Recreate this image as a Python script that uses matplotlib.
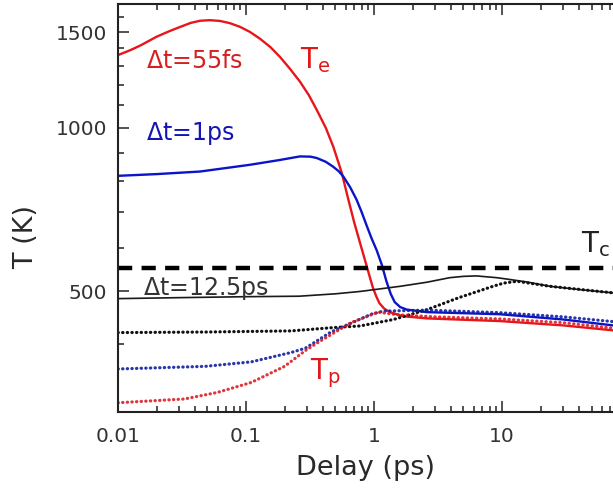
import matplotlib
matplotlib.use("Agg")
import matplotlib.pyplot as plt
from matplotlib.ticker import FixedLocator, NullFormatter, LogLocator

plt.rcParams['font.family'] = ['DejaVu Sans']
plt.rcParams['mathtext.default'] = 'regular'

# electron temperature, 55 fs pulse
red_te_t = [0.01, 0.0125, 0.015, 0.02, 0.025, 0.03, 0.037, 0.0437, 0.052, 0.0626,
            0.075, 0.0898, 0.107, 0.128, 0.155, 0.184, 0.22, 0.264, 0.31, 0.357,
            0.42, 0.48, 0.52, 0.56, 0.63, 0.7, 0.8, 0.87, 0.93, 0.98, 1.04, 1.1,
            1.2, 1.33, 1.7, 2.6, 9.6, 30, 73.6]
red_te_T = [1361, 1390, 1418, 1471, 1505, 1531, 1560, 1574, 1578, 1573,
            1558, 1534, 1502, 1460, 1408, 1351, 1285, 1216, 1148, 1079,
            1000, 924, 872, 826, 738, 670, 600, 560, 530, 508, 490, 476,
            465, 458, 450, 446, 441, 433, 424]

# electron temperature, 1 ps pulse
blue_te_t = [0.01, 0.02, 0.0437, 0.107, 0.18, 0.264, 0.32, 0.357, 0.42, 0.48,
             0.53, 0.575, 0.65, 0.73, 0.8, 0.88, 0.96, 1.05, 1.15, 1.25,
             1.35, 1.45, 1.6, 1.8, 2.6, 9.6, 30, 73.6]
blue_te_T = [816, 822, 831, 855, 872, 886, 885, 880, 866, 848,
             832, 814, 778, 738, 700, 659, 625, 595, 560, 522,
             495, 478, 468, 463, 458, 454, 444, 433]

# electron temperature, 12.5 ps pulse
black_te_t = [0.01, 0.03, 0.1, 0.26, 0.5, 0.78, 1.6, 2.6, 3.9, 5, 6.3, 9.1,
              11.5, 16, 23.7, 40, 73.6]
black_te_T = [485, 487, 489, 490, 495, 500, 511, 520, 530, 533, 534, 530,
              526, 520, 511, 504, 497]

# phonon temperatures
red_tp_t = [0.01, 0.033, 0.06, 0.11, 0.2, 0.29, 0.36, 0.66, 1.08, 1.5, 3, 9.6, 30, 73.6]
red_tp_T = [312, 317, 326, 340, 364, 389, 402, 438, 458, 453, 449, 445, 438, 428]

blue_tp_t = [0.01, 0.048, 0.11, 0.225, 0.29, 0.46, 0.66, 0.95, 1.18, 2.6, 9.6, 30, 73.6]
blue_tp_T = [360, 364, 371, 386, 393, 421, 437, 454, 460, 462, 457, 449, 440]

black_tp_t = [0.01, 0.048, 0.225, 0.48, 0.78, 1.42, 2.6, 4.6, 8.5, 10.3, 13.1, 23.7, 73.6]
black_tp_T = [420, 421, 423, 429, 432, 444, 463, 487, 511, 518, 522, 511, 497]

T_c = 553

fig = plt.figure(figsize=(6.13, 4.91), dpi=100)
ax = fig.add_axes([118 / 613, 1 - 412 / 491, 495 / 613, 408 / 491])

ax.set_xscale('log')
ax.set_yscale('log')

ax.plot(red_te_t, red_te_T, color='#e8161b', lw=1.7)
ax.plot(blue_te_t, blue_te_T, color='#0a14c8', lw=1.7)
ax.plot(black_te_t, black_te_T, color='#1a1a1a', lw=1.2)

dot = dict(lw=2.3, linestyle=(0, (0.1, 1.35)), dash_capstyle='round')
ax.plot(black_tp_t, black_tp_T, color='#111111', **dot)
ax.plot(blue_tp_t, blue_tp_T, color='#1020a0', alpha=0.9, **dot)
ax.plot(red_tp_t, red_tp_T, color='#d8141a', alpha=0.85, **dot)

tc_line = ax.axhline(T_c, color='black', lw=3.2)
tc_line.set_dashes((3.2, 2.1))

ax.set_xlim(0.01, 73.6)
ax.set_ylim(300, 1690)

ax.xaxis.set_major_locator(FixedLocator([0.01, 0.1, 1, 10]))
ax.xaxis.set_minor_locator(LogLocator(base=10, subs=range(2, 10)))
ax.set_xticklabels(['0.01', '0.1', '1', '10'])
ax.xaxis.set_minor_formatter(NullFormatter())

ax.yaxis.set_major_locator(FixedLocator([500, 1000, 1500]))
ax.yaxis.set_minor_locator(FixedLocator([400, 600, 700, 800, 900, 1100, 1200,
                                         1300, 1400, 1600]))
ax.set_yticklabels(['500', '1000', '1500'])
ax.yaxis.set_minor_formatter(NullFormatter())

ax.tick_params(which='both', direction='in', top=True, right=False,
               width=1.1, color='#222222', labelcolor='#333333', labelsize=14.5)
ax.tick_params(which='major', length=8)
ax.tick_params(which='minor', length=4.5)
ax.tick_params(axis='x', pad=11)
ax.tick_params(axis='y', pad=8)

for side in ['left', 'bottom', 'top']:
    ax.spines[side].set_linewidth(1.5)
    ax.spines[side].set_color('#222222')
ax.spines['right'].set_visible(False)

ax.set_xlabel('Delay (ps)', fontsize=19.5, color='#2a2a2a', labelpad=6)
ax.set_ylabel('T (K)', fontsize=19.5, color='#2a2a2a', labelpad=8)
ax.yaxis.set_label_coords(-0.16, 0.43)

lab = dict(ha='left', va='baseline')
ax.text(0.0166, 1288, r'$\Delta$t=55fs', color='#d42020', fontsize=17, **lab)
ax.text(0.0166, 950, r'$\Delta$t=1ps', color='#1414b4', fontsize=17, **lab)
ax.text(0.0157, 492, r'$\Delta$t=12.5ps', color='#333333', fontsize=17, **lab)
ax.text(0.262, 1288, r'T$_e$', color='#e01818', fontsize=20, **lab)
ax.text(0.316, 345, r'T$_p$', color='#e01818', fontsize=20, **lab)
ax.text(41.4, 590, r'T$_c$', color='#222222', fontsize=20, **lab)

fig.savefig('out.png', dpi=100)
